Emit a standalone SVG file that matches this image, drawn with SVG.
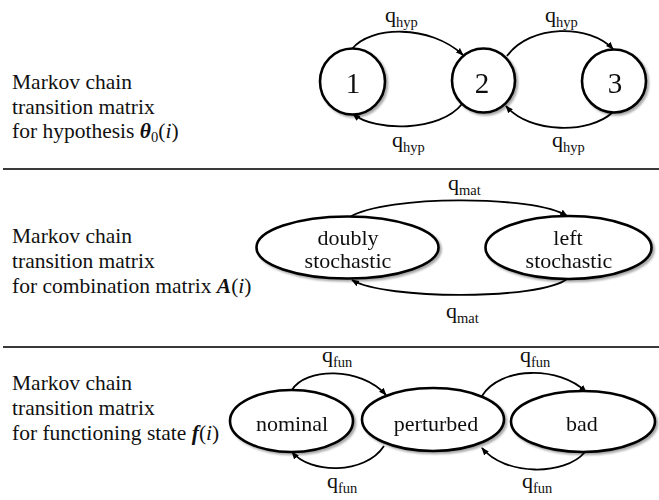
<svg xmlns="http://www.w3.org/2000/svg" width="659" height="500" viewBox="0 0 659 500" font-family="Liberation Serif, DejaVu Serif, serif">
<style>
text{font-family:'Liberation Serif','DejaVu Serif',serif;fill:#111;}
.t{font-size:21.5px;}
.n{font-size:22px;text-anchor:middle;}
.num{font-size:29px;text-anchor:middle;}
.q{font-size:22px;}
.s{font-size:14.5px;}
.node{fill:#fff;stroke:#000;stroke-width:2.6;}
.edge{fill:none;stroke:#000;stroke-width:1.8;marker-end:url(#ah);}
.sep{stroke:#3a3a3a;stroke-width:2;}
.bi{font-weight:bold;font-style:italic;}
.it{font-style:italic;}
</style>
<defs>
<marker id="ah" markerWidth="8" markerHeight="7" refX="7" refY="3.5" orient="auto" markerUnits="userSpaceOnUse">
<path d="M0,0.5 L8,3.5 L0,6.5 Z" fill="#000"/>
</marker>
<filter id="sh" x="-10%" y="-20%" width="130%" height="150%">
<feGaussianBlur in="SourceAlpha" stdDeviation="1.2"/>
<feOffset dx="1.5" dy="1.5" result="b"/>
<feComponentTransfer><feFuncA type="linear" slope="0.35"/></feComponentTransfer>
<feMerge><feMergeNode/><feMergeNode in="SourceGraphic"/></feMerge>
</filter>
</defs>
<rect width="659" height="500" fill="#fff"/>

<!-- separators -->
<line class="sep" x1="3" y1="169" x2="659" y2="169"/>
<line class="sep" x1="3" y1="347" x2="659" y2="347"/>

<!-- section labels -->
<text class="t" x="12" y="89">Markov chain</text>
<text class="t" x="12" y="113.5">transition matrix</text>
<text class="t" x="12" y="138">for hypothesis <tspan class="bi">θ</tspan><tspan font-size="14.5" dy="4">0</tspan><tspan dy="-4">(</tspan><tspan class="it">i</tspan>)</text>

<text class="t" x="12" y="243">Markov chain</text>
<text class="t" x="12" y="268">transition matrix</text>
<text class="t" x="12" y="293">for combination matrix <tspan class="bi">A</tspan>(<tspan class="it">i</tspan>)</text>

<text class="t" x="12" y="390">Markov chain</text>
<text class="t" x="12" y="415">transition matrix</text>
<text class="t" x="12" y="440">for functioning state <tspan class="bi">f</tspan>(<tspan class="it">i</tspan>)</text>

<!-- connectors -->
<g id="connectors">
<path class="edge" d="M352,49 C370,26 430,24 463,55"/>
<path class="edge" d="M462,104 C440,132 375,132 353,114"/>
<path class="edge" d="M507,56 C530,24 590,24 613,49"/>
<path class="edge" d="M613,112 C590,134 530,134 506,106"/>

<path class="edge" d="M350,217 C385,195 535,195 567,216"/>
<path class="edge" d="M567,279 C540,300 385,300 352,280"/>

<path class="edge" d="M292,390 C305,368 360,366 386,395"/>
<path class="edge" d="M384,446 C365,475 310,474 292,452"/>
<path class="edge" d="M482,396 C500,366 560,366 586,392"/>
<path class="edge" d="M585,452 C565,476 505,476 482,448"/>

<text class="q" x="385" y="22">q<tspan class="s" dy="5">hyp</tspan></text>
<text class="q" x="545" y="22">q<tspan class="s" dy="5">hyp</tspan></text>
<text class="q" x="392" y="147">q<tspan class="s" dy="5">hyp</tspan></text>
<text class="q" x="552" y="147">q<tspan class="s" dy="5">hyp</tspan></text>

<text class="q" x="448" y="190">q<tspan class="s" dy="5">mat</tspan></text>
<text class="q" x="446" y="318">q<tspan class="s" dy="5">mat</tspan></text>

<text class="q" x="322" y="362">q<tspan class="s" dy="5">fun</tspan></text>
<text class="q" x="520" y="362">q<tspan class="s" dy="5">fun</tspan></text>
<text class="q" x="327" y="488">q<tspan class="s" dy="5">fun</tspan></text>
<text class="q" x="522" y="488">q<tspan class="s" dy="5">fun</tspan></text>
</g>

<!-- nodes -->
<g id="node-1" filter="url(#sh)">
<ellipse class="node" cx="352.5" cy="81.5" rx="32.5" ry="33"/>
<text class="num" x="353" y="93">1</text>
</g>
<g id="node-2" filter="url(#sh)">
<ellipse class="node" cx="483.5" cy="80.5" rx="31.5" ry="32"/>
<text class="num" x="482" y="93">2</text>
</g>
<g id="node-3" filter="url(#sh)">
<ellipse class="node" cx="614" cy="81" rx="32" ry="31.5"/>
<text class="num" x="615" y="93">3</text>
</g>

<g id="node-doubly" filter="url(#sh)">
<ellipse class="node" cx="347.5" cy="247.5" rx="91" ry="31"/>
<text class="n" x="348" y="245">doubly</text>
<text class="n" x="348" y="268">stochastic</text>
</g>
<g id="node-left" filter="url(#sh)">
<ellipse class="node" cx="568.5" cy="247.5" rx="83" ry="31.5"/>
<text class="n" x="568" y="245">left</text>
<text class="n" x="569" y="268">stochastic</text>
</g>

<g id="node-nominal" filter="url(#sh)">
<ellipse class="node" cx="291.5" cy="421" rx="61.5" ry="31"/>
<text class="n" x="292" y="431">nominal</text>
</g>
<g id="node-perturbed" filter="url(#sh)">
<ellipse class="node" cx="433" cy="419.5" rx="71" ry="31.5"/>
<text class="n" x="436" y="431">perturbed</text>
</g>
<g id="node-bad" filter="url(#sh)">
<ellipse class="node" cx="583" cy="421.5" rx="72" ry="30.5"/>
<text class="n" x="582" y="431">bad</text>
</g>
</svg>
